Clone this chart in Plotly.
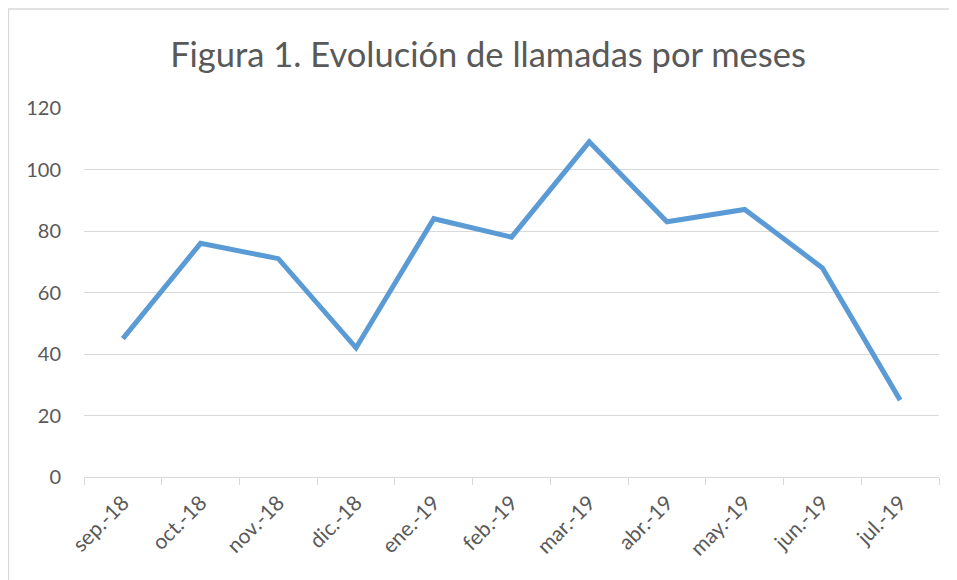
import plotly.graph_objects as go

months = ["sep.-18", "oct.-18", "nov.-18", "dic.-18", "ene.-19", "feb.-19",
          "mar.-19", "abr.-19", "may.-19", "jun.-19", "jul.-19"]
calls = [45, 76, 71, 42, 84, 78, 109, 83, 87, 68, 25]
y_ticks = [0, 20, 40, 60, 80, 100, 120]

W, H = 957, 580
# page is rendered with an 8px body margin, so figure coords = page coords - 8
L, R, T, B = 76, 26, 100, 111

fig = go.Figure()
fig.add_trace(go.Scatter(
    x=months, y=calls, mode="lines",
    line=dict(color="#5B9BD5", width=5, shape="linear"),
    hoverinfo="x+y", showlegend=False,
))

pw = W - L - R
ph = H - T - B
fig.update_layout(
    width=W, height=H,
    margin=dict(l=L, r=R, t=T, b=B, autoexpand=False),
    paper_bgcolor="white", plot_bgcolor="white",
    font=dict(family="Lato, Open Sans, sans-serif", color="#595959", size=20),
    title=dict(text="Figura 1. Evolución de llamadas por meses",
               x=(480 - L) / pw, xanchor="center", y=1 - 47 / H, yanchor="middle",
               xref="paper",
               font=dict(size=34.5, color="#595959")),
    xaxis=dict(
        type="category", range=[-0.5, len(months) - 0.5],
        tickson="boundaries", ticks="outside", ticklen=7,
        tickcolor="#d9d9d9", tickwidth=1.3, tickangle=-45,
        showline=True, linecolor="#d9d9d9", linewidth=1.3,
        showgrid=False, zeroline=False, tickfont=dict(size=21),
        ticklabelstandoff=4, automargin=False,
    ),
    yaxis=dict(
        range=[0, 120], tickvals=y_ticks, showgrid=True, gridcolor="#d9d9d9",
        gridwidth=1.3, zeroline=False, showline=False, ticks="",
        ticklabelstandoff=22, tickfont=dict(size=20), automargin=False,
    ),
    shapes=[dict(
        type="rect", xref="paper", yref="paper",
        x0=(0.5 - L) / pw, x1=(W + 20 - L) / pw,
        y0=-(H + 20 - (H - B)) / ph, y1=(H - B - 1) / ph,
        line=dict(color="#d9d9d9", width=1.3), fillcolor="rgba(0,0,0,0)",
        layer="below",
    )],
)

fig.write_html("out.html")
